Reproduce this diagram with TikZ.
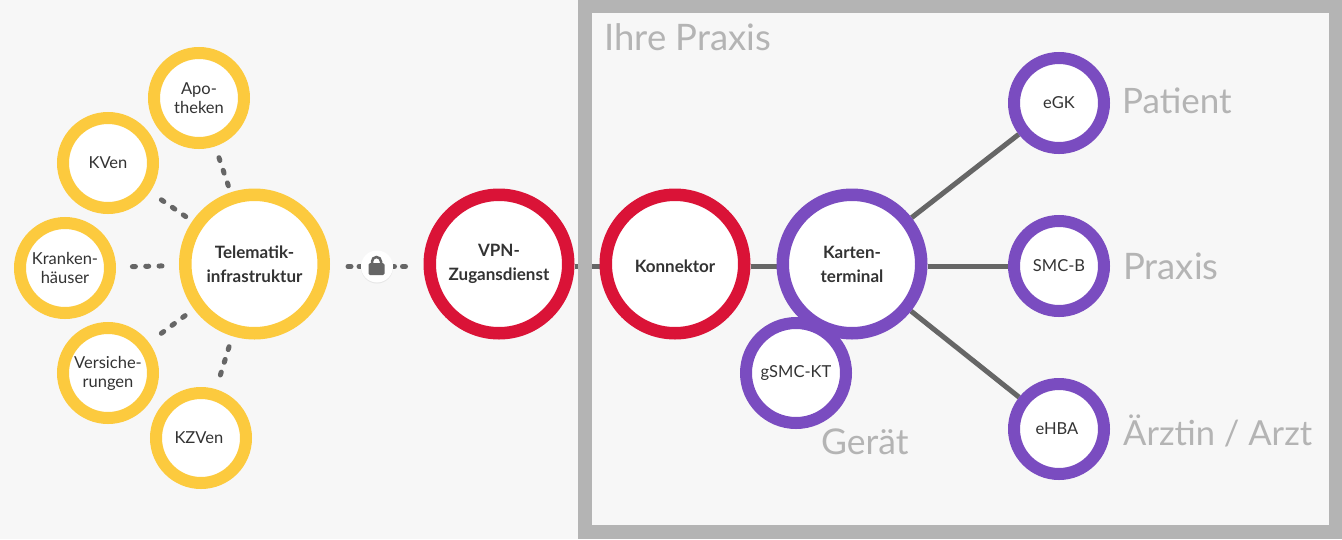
\documentclass[tikz,border=0pt]{standalone}
\usepackage{fontspec}
\setmainfont{Lato}
\usepackage{xcolor}
\usetikzlibrary{shadows}
\definecolor{pageGray}{HTML}{F7F7F7}
\definecolor{frameGray}{HTML}{B4B4B4}
\definecolor{edgeGray}{HTML}{666666}
\definecolor{textGray}{HTML}{333333}
\definecolor{tiYellow}{HTML}{FCCA3E}
\definecolor{vpnRed}{HTML}{DA1337}
\definecolor{cardPurple}{HTML}{7A4CC0}
\pgfdeclarelayer{base}
\pgfdeclarelayer{edges}
\pgfdeclarelayer{frame}
\pgfsetlayers{base,edges,frame,main}
\tikzset{
  bignode/.style={circle, draw=#1, fill=white, line width=12.5pt, minimum size=138.5pt, inner sep=0pt,
    align=center, text=textGray, font=\fontsize{17}{24}\selectfont\bfseries,
    execute at begin node={\rule{0pt}{17pt}}},
  smallnode/.style={circle, draw=#1, fill=white, line width=12pt, minimum size=90pt, inner sep=0pt,
    align=center, text=textGray, font=\fontsize{16.5}{19}\selectfont},
  areatext/.style={text=frameGray, inner sep=0pt, font=\fontsize{#1}{#1}\selectfont},
  dotted link/.style={draw=edgeGray, line width=5pt, line cap=round, dash pattern=on 3pt off 10.3pt},
  lock link/.style={dotted link, dash pattern=on 3pt off 8pt, shorten <=18pt},
  solid link/.style={draw=edgeGray, line width=5pt}
}
\begin{document}
\begin{tikzpicture}[x=1pt, y=-1pt]
    \useasboundingbox (0,0) rectangle (1342,539);
    \begin{pgfonlayer}{base}
      \fill[pageGray] (0,0) rectangle (1342,539);
    \end{pgfonlayer}
    \begin{pgfonlayer}{frame}
      \draw[frameGray, line width=13.5pt] (585,6.5) rectangle (1335.5,532);
    \end{pgfonlayer}

    \node[bignode=tiYellow] (ti) at (254.5,264) {Telematik-\\infrastruktur};
    \node[bignode=vpnRed] (vpn) at (499,264) {VPN-\\Zugansdienst};
    \node[bignode=vpnRed] (konnektor) at (675,264) {Konnektor};
    \node[bignode=cardPurple] (terminal) at (852,264) {Karten-\\terminal};
    \node[smallnode=cardPurple, minimum size=100pt] (gsmc) at (796,373) {gSMC-KT};
    \node[circle, fill=white, minimum size=32pt, inner sep=0pt,
      drop shadow={shadow xshift=0pt, shadow yshift=-1pt, opacity=.15}] (lock) at (377,266.5) {};
    \fill[edgeGray, rounded corners=1.5pt] (368.5,263) rectangle (384.5,275);
    \draw[edgeGray, line width=2.5pt] (372,264) -- (372,261.5) arc[start angle=180, end angle=0, radius=4.5pt] -- (381,264);

    \foreach \Point/\Name/\NodeLabel in {
      (199,98)/apotheken/{Apo-\\theken},
      (108,163)/kven/KVen,
      (65,268)/krankenhaus/{Kranken-\\häuser},
      (108,373)/versicherung/{Versiche-\\rungen},
      (201,438)/kzven/KZVen
    }
    \node[smallnode=tiYellow] (\Name) at \Point {\NodeLabel};

    \foreach \Point/\Name/\NodeLabel in {
      (1059,103)/egk/eGK,
      (1059,266)/smcb/SMC-B,
      (1059,429)/ehba/eHBA
    }
    \node[smallnode=cardPurple] (\Name) at \Point {\NodeLabel};

    \begin{pgfonlayer}{edges}
      \foreach \Name/\NearEnd/\FarEnd in {
        apotheken/7/5,
        kven/8/7,
        krankenhaus/17/14,
        versicherung/11/9,
        kzven/11/9
      }
      \draw[dotted link, shorten <=\NearEnd pt, shorten >=\FarEnd pt] (ti) -- (\Name);
      \draw[lock link] ([yshift=-2.5pt]ti.east) -- (lock);
      \draw[lock link] ([yshift=-2.5pt]vpn.west) -- (lock);
      \draw[solid link] ([yshift=-2pt]vpn.east) -- ([yshift=-2pt]konnektor.west);
      \draw[solid link] ([yshift=-2pt]konnektor.east) -- ([yshift=-2pt]terminal.west);
      \draw[solid link] (terminal) -- (egk);
      \draw[solid link] ([yshift=-2pt]terminal.east) -- (smcb);
      \draw[solid link] (terminal) -- (ehba);
    \end{pgfonlayer}

    \node[areatext=36.5, anchor=base west] (praxis) at (604,50) {Ihre Praxis};
    \node[areatext=35, anchor=base west] (patient) at (1122,113) {Patient};
    \node[areatext=36.5, anchor=base west] (praxisb) at (1123,279) {Praxis};
    \node[areatext=34.5, anchor=base west] (arzt) at (1123,445) {Ärztin / Arzt};
    \node[areatext=35.5, anchor=base west] (geraet) at (821,454) {Gerät};
  \end{tikzpicture}
\end{document}
